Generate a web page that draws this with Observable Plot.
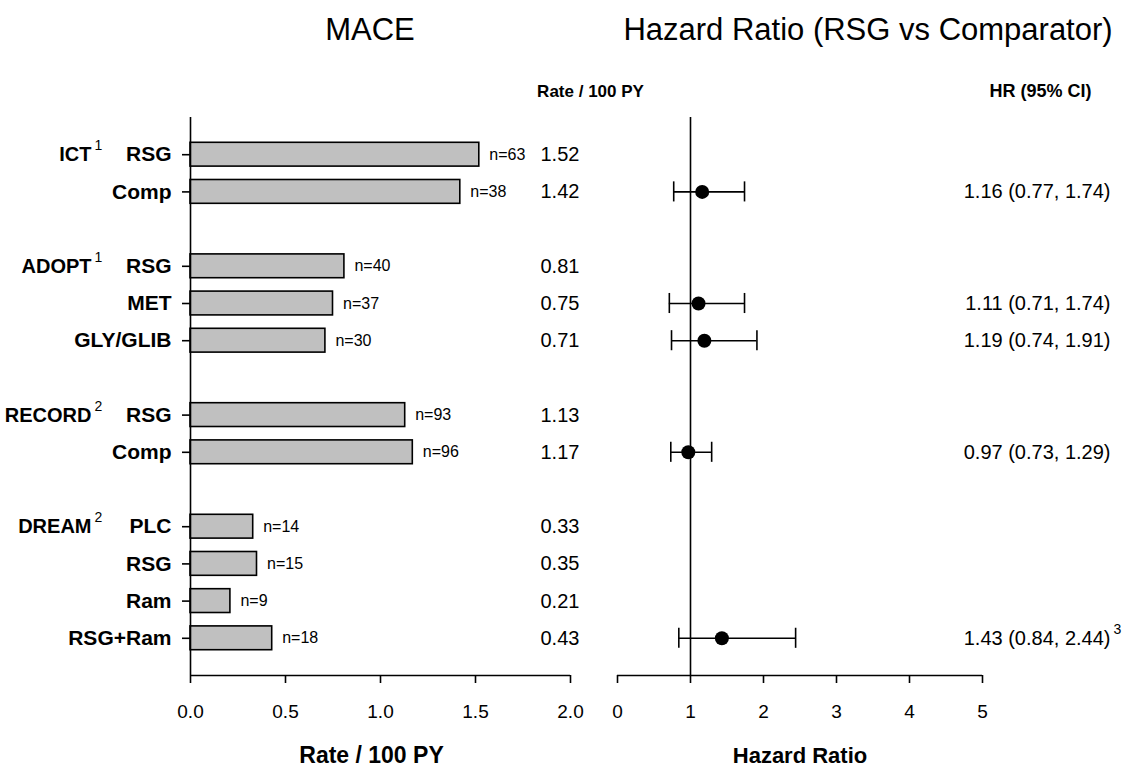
<!DOCTYPE html>
<html><head><meta charset="utf-8">
<script src="https://cdn.jsdelivr.net/npm/d3@7"></script>
<script src="https://cdn.jsdelivr.net/npm/@observablehq/plot@0.6"></script>
<style>
body{margin:0;background:#fff;font-family:"Liberation Sans",Arial,Helvetica,sans-serif;}
#wrap{position:relative;width:1136px;height:772px;overflow:hidden;background:#fff;}
.t{position:absolute;font-size:31px;color:#000;white-space:nowrap;transform:translateX(-50%);}
#wrap svg{position:absolute;top:0;}
</style></head><body>
<div id="wrap">
<div class="t" style="left:370px;top:12px">MACE</div>
<div class="t" style="left:868px;top:12px">Hazard Ratio (RSG vs Comparator)</div>
</div>
<script>
// ---- data ----
const armStudy = ["ICT","ICT","ADOPT","ADOPT","ADOPT","RECORD","RECORD","DREAM","DREAM","DREAM","DREAM"];
const arms     = ["RSG","Comp","RSG","MET","GLY/GLIB","RSG","Comp","PLC","RSG","Ram","RSG+Ram"];
const rates    = [1.52,1.42,0.81,0.75,0.71,1.13,1.17,0.33,0.35,0.21,0.43];
const events   = [63,38,40,37,30,93,96,14,15,9,18];
const studies  = ["ICT","ADOPT","RECORD","DREAM"];
const studyRef = ["1","1","2","2"];
const hrArm    = [1,3,4,6,10];          // arm index the HR is shown on
const hr       = [1.16,1.11,1.19,0.97,1.43];
const hrLo     = [0.77,0.71,0.74,0.73,0.84];
const hrHi     = [1.74,1.74,1.91,1.29,2.44];
const hrNote   = ["","","","","3"];
const rateTicks = [0,0.5,1.0,1.5,2.0];
const hrTicks   = [0,1,2,3,4,5];

// ---- build rows (one blank row between studies) ----
let r = 0, prev = null;
const rows = arms.map((a,i) => {
  if (prev !== null && armStudy[i] !== prev) r++;
  prev = armStudy[i];
  return {arm: a, study: armStudy[i], rate: rates[i], n: events[i], row: r++};
});
const lastRow = r;               // axis baseline row
const studyRows = studies.map((s,i) => ({study: s, ref: studyRef[i], row: rows.find(d => d.study === s).row}));
const hrRows = hr.map((v,i) => ({hr: v, lo: hrLo[i], hi: hrHi[i], note: hrNote[i], row: rows[hrArm[i]].row,
  label: v.toFixed(2) + " (" + hrLo[i].toFixed(2) + ", " + hrHi[i].toFixed(2) + ")"}));

const font = '"Liberation Sans", Arial, Helvetica, sans-serif';
const common = {
  height: 772, marginTop: 117, marginBottom: 97,
  style: {fontFamily: font, background: "transparent", overflow: "visible", color: "black"}
};
const SW = 1.6;

const left = Plot.plot({
  ...common,
  width: 600, marginLeft: 190, marginRight: 30,
  x: {domain: [0, 2]},
  y: {domain: [-1, lastRow], reverse: true},
  marks: [
    Plot.rect(rows, {x1: 0, x2: "rate", y1: d => d.row - 0.32, y2: d => d.row + 0.32,
      fill: "#c0c0c0", stroke: "black", strokeWidth: SW}),
    Plot.ruleX([0], {y1: -1, y2: lastRow, strokeWidth: SW}),
    Plot.ruleY([lastRow], {x1: 0, x2: 2, strokeWidth: SW}),
    Plot.axisX({ticks: rateTicks, tickFormat: d3.format(".1f"), tickSize: 8, tickPadding: 21,
      fontSize: 19, label: null, strokeWidth: SW}),
    Plot.axisY({ticks: rows.map(d => d.row), tickFormat: v => rows.find(d => d.row === v).arm,
      tickSize: 8, tickPadding: 11, fontSize: 21, fontWeight: "bold", label: null, strokeWidth: SW}),
    Plot.text(rows, {x: "rate", y: "row", text: d => "n=" + d.n, dx: 10, textAnchor: "start", fontSize: 16}),
    Plot.text(rows, {y: "row", text: d => d.rate.toFixed(2), frameAnchor: "right", dx: -30,
      textAnchor: "start", fontSize: 20}),
    Plot.text(studyRows, {y: "row", text: "study", frameAnchor: "left", dx: -99, textAnchor: "end",
      fontSize: 20, fontWeight: "bold"}),
    Plot.text(studyRows, {y: "row", text: "ref", frameAnchor: "left", dx: -96, dy: -9, textAnchor: "start",
      fontSize: 14}),
    Plot.text(["Rate / 100 PY"], {frameAnchor: "top-right", dx: 20, dy: -33, textAnchor: "middle",
      fontSize: 17, fontWeight: "bold"}),
    Plot.text(["Rate / 100 PY"], {frameAnchor: "bottom", dx: -9, dy: 87, fontSize: 23, fontWeight: "bold"})
  ]
});

const right = Plot.plot({
  ...common,
  width: 536, marginLeft: 17, marginRight: 154,
  x: {domain: [0, 5]},
  y: {domain: [-1, lastRow], reverse: true, axis: null},
  marks: [
    Plot.ruleX([1], {y1: -1, y2: lastRow, strokeWidth: SW}),
    Plot.ruleY([lastRow], {x1: 0, x2: 5, strokeWidth: SW}),
    Plot.axisX({ticks: hrTicks, tickFormat: d => String(d), tickSize: 8, tickPadding: 21,
      fontSize: 19, label: null, strokeWidth: SW}),
    Plot.ruleY(hrRows, {y: "row", x1: "lo", x2: "hi", strokeWidth: SW}),
    Plot.ruleX(hrRows, {x: "lo", y1: d => d.row - 0.27, y2: d => d.row + 0.27, strokeWidth: SW}),
    Plot.ruleX(hrRows, {x: "hi", y1: d => d.row - 0.27, y2: d => d.row + 0.27, strokeWidth: SW}),
    Plot.dot(hrRows, {x: "hr", y: "row", r: 7, fill: "black", stroke: "none"}),
    Plot.text(hrRows, {y: "row", text: "label", frameAnchor: "right", dx: 128, textAnchor: "end", fontSize: 20}),
    Plot.text(hrRows, {y: "row", text: "note", frameAnchor: "right", dx: 131, dy: -9, textAnchor: "start", fontSize: 14}),
    Plot.text(["HR (95% CI)"], {frameAnchor: "top-right", dx: 58, dy: -33, textAnchor: "middle",
      fontSize: 18, fontWeight: "bold"}),
    Plot.text(["Hazard Ratio"], {frameAnchor: "bottom", dy: 87, fontSize: 22, fontWeight: "bold"})
  ]
});

left.style.left = "0px";
right.style.left = "600px";
document.getElementById("wrap").append(left, right);
</script>
</body></html>
